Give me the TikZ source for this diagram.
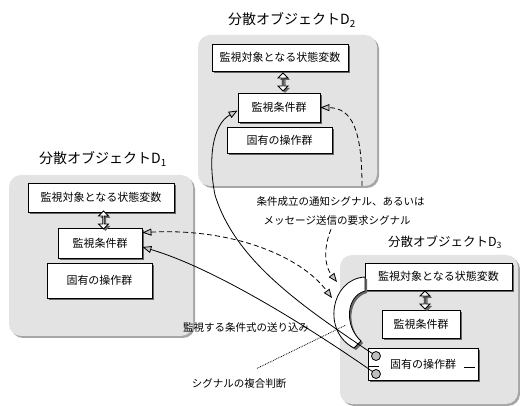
\documentclass[tikz,border=0pt]{standalone}
\usepackage{fontspec}
\setmainfont{Noto Sans CJK JP}
\usetikzlibrary{arrows.meta, shapes.arrows}
\tikzset{
  shadowed/.style = {preaction={fill=#1,
                     transform canvas={xshift=2pt, yshift=-2pt}}},
  objbox/.style   = {shape=rectangle, rounded corners=12pt, fill=gray!22,
                     shadowed=gray!70},
  part/.style     = {shape=rectangle, draw, fill=white, inner sep=0pt,
                     font=\fontsize{11}{13}\selectfont, shadowed=black!60},
  objtitle/.style = {font=\fontsize{14}{16}\selectfont},
  link/.style     = {shape=double arrow, shape border rotate=90, draw,
                     fill=white, inner sep=0pt, minimum height=18pt,
                     minimum width=10pt, double arrow head extend=2.5pt,
                     shadowed=black!60},
  port/.style     = {shape=circle, draw, fill=gray!50, minimum size=9pt,
                     inner sep=0pt},
  note/.style     = {font=\fontsize{10.5}{19}\selectfont},
  sigtip/.tip     = {Triangle[length=9pt, width=7pt, fill=gray!45]}
}

\begin{document}
\begin{tikzpicture}
  [
    x           = 1pt,
    y           = -1pt,
    line width  = 0.8pt,
    every node/.style = {font=\fontsize{11}{13}\selectfont}
  ]
  \useasboundingbox (0,0) rectangle (520,406);

  % D2
  \node [objbox, minimum width=179pt, minimum height=151pt] (obj2) at (287.5,110.5) {};
  \node [objtitle] (name2) at (292,20) {分散オブジェクトD\textsubscript{2}};
  \node [part, minimum width=136pt, minimum height=27pt] (state2) at (280,57.5) {監視対象となる状態変数};
  \node [part, minimum width=82pt, minimum height=29pt] (cond2) at (279,107.5) {監視条件群};
  \node [part, minimum width=105pt, minimum height=26pt] (ops2) at (279.5,140) {固有の操作群};
  \node [link] (link2) at (283,82) {};

  % D1
  \node [objbox, minimum width=184pt, minimum height=161pt] (obj1) at (101,255.5) {};
  \node [objtitle] (name1) at (103,159) {分散オブジェクトD\textsubscript{1}};
  \node [part, minimum width=146pt, minimum height=29pt] (state1) at (101,197.5) {監視対象となる状態変数};
  \node [part, minimum width=84pt, minimum height=30pt] (cond1) at (100,243) {監視条件群};
  \node [part, minimum width=105pt, minimum height=35pt] (ops1) at (99.5,280.5) {固有の操作群};
  \node [link] (link1) at (103.5,220) {};

  % D3
  \node [objbox, minimum width=178pt, minimum height=149pt] (obj3) at (429,329.5) {};
  \node [objtitle, font=\fontsize{12.5}{15}\selectfont] (name3) at (445,242) {分散オブジェクトD\textsubscript{3}};
  \node [part, minimum width=147pt, minimum height=27pt] (state3) at (438.5,276.5) {監視対象となる状態変数};
  \node [part, minimum width=78pt, minimum height=28pt] (cond3) at (421,324) {監視条件群};
  \node [part, minimum width=110pt, minimum height=32pt] (ops3) at (423,364) {固有の操作群};
  \node [link] (link3) at (425,300) {};
  \node [port] (port1) at (376,356) {};
  \node [port] (port2) at (376,374) {};
  \draw ([yshift=-2pt]ops3.west) -- ++(11,0);
  \draw ([xshift=-14pt,yshift=-3pt]ops3.east) -- ++(11,0);

  \draw [fill=white, shadowed=black!60]
    (365,277) .. controls (330,279) and (322,332) .. (354,348) -- (361,341)
    .. controls (344,326) and (346,296) .. (365,291) -- cycle;

  \coordinate (hit1)  at (332,298);
  \coordinate (hit2)  at (337,282);
  \coordinate (edge2) at (362,186);
  \coordinate (mix)   at (346,325);

  \node [note, align=left, anchor=north west] (sigtext) at (253,193)
    {条件成立の通知シグナル、あるいは\\\hspace{7pt}メッセージ送信の要求シグナル};
  \node [note] (feed)  at (246,328) {監視する条件式の送り込み};
  \node [note] (judge) at (239,384) {シグナルの複合判断};

  \draw [-sigtip] (port1) .. controls (300,305) and (235,260) .. (215,195)
    .. controls (208,160) and (212,125) .. ([yshift=-3pt]cond2.west);
  \draw [-sigtip] (port2) .. controls (320,335) and (220,270) .. ([yshift=-4pt]cond1.east);
  \draw [dash pattern=on 5pt off 3pt, sigtip-sigtip] ([yshift=-5pt]cond1.north east)
    .. controls (230,228) and (300,255) .. (hit1);
  \draw [dash pattern=on 5pt off 3pt, -sigtip] ([xshift=78pt]sigtext.south west)
    .. controls (322,252) and (326,268) .. (hit2);
  \draw [dash pattern=on 5pt off 3pt, -sigtip] (edge2)
    .. controls (362,130) and (352,108) .. (cond2.east);
  \draw [densely dotted] ([xshift=18pt,yshift=7pt]judge.north) -- (mix);
\end{tikzpicture}
\end{document}
